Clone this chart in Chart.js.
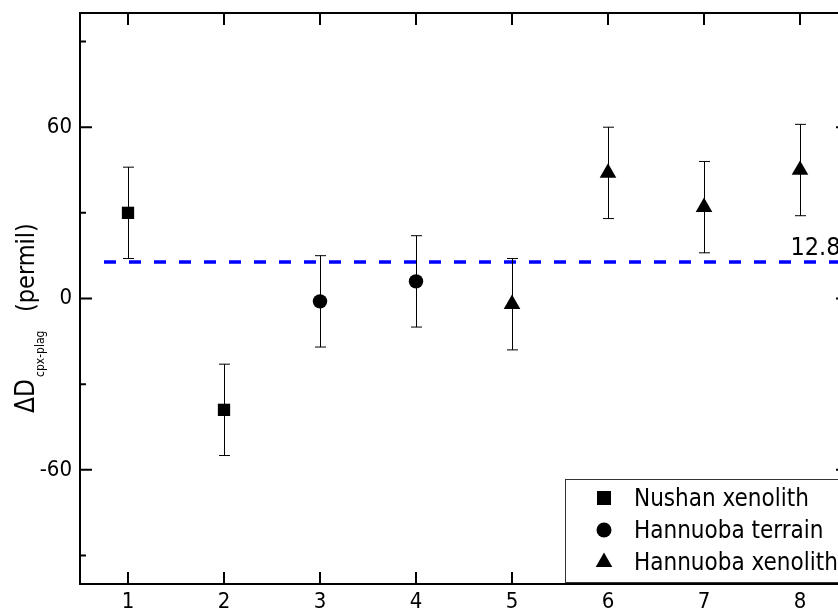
<!DOCTYPE html>
<html>
<head>
<meta charset="utf-8">
<script src="https://cdn.jsdelivr.net/npm/chart.js@4"></script>
<style>
  html, body { margin: 0; padding: 0; background: #fff; overflow: hidden; }
  #wrap { position: relative; width: 870px; height: 612px; }
</style>
</head>
<body>
<div id="wrap"><canvas id="dChart"></canvas></div>
<script>
// sample numbers on the x axis
var xTicks = [1, 2, 3, 4, 5, 6, 7, 8];
var yMajorTicks = [-60, 0, 60];
var yMinorTicks = [-90, -30, 30, 90];

// Nushan xenolith
var nushanX = [1, 2];
var nushanY = [30, -39];
var nushanErr = [16, 16];

// Hannuoba terrain
var terrainX = [3, 4];
var terrainY = [-1, 6];
var terrainErr = [16, 16];

// Hannuoba xenolith
var xenolithX = [5, 6, 7, 8];
var xenolithY = [-2, 44, 32, 45];
var xenolithErr = [16, 16, 16, 16];

// mean line
var meanValue = 12.8;
var meanFromX = 0.75;
var meanToX = 8.5;

var FONT = '"DejaVu Sans Condensed", "DejaVu Sans", sans-serif';

function pts(xs, ys) {
    return xs.map(function (x, i) { return { x: x, y: ys[i] }; });
}

var errorBars = {
    id: 'errorBars',
    afterDatasetsDraw: function (chart) {
        var ctx = chart.ctx;
        var xs = chart.scales.x, ys = chart.scales.y;
        ctx.save();
        ctx.strokeStyle = '#000';
        ctx.lineWidth = 1;
        chart.data.datasets.forEach(function (ds) {
            if (!ds.err) return;
            ds.data.forEach(function (p, i) {
                var px = Math.round(xs.getPixelForValue(p.x)) + 0.5;
                var top = ys.getPixelForValue(p.y + ds.err[i]);
                var bot = ys.getPixelForValue(p.y - ds.err[i]);
                ctx.beginPath();
                ctx.moveTo(px, top); ctx.lineTo(px, bot);
                ctx.moveTo(px - 5.5, top); ctx.lineTo(px + 5.5, top);
                ctx.moveTo(px - 5.5, bot); ctx.lineTo(px + 5.5, bot);
                ctx.stroke();
            });
        });
        ctx.restore();
    }
};

function marker(ctx, style, x, y) {
    ctx.beginPath();
    if (style === 'rect') {
        ctx.rect(x - 7, y - 7, 14, 14);
    } else if (style === 'circle') {
        ctx.arc(x, y, 7.5, 0, Math.PI * 2);
    } else {
        ctx.moveTo(x, y - 9.5);
        ctx.lineTo(x + 8.3, y + 5);
        ctx.lineTo(x - 8.3, y + 5);
        ctx.closePath();
    }
    ctx.fill();
}

var frameAndText = {
    id: 'frameAndText',
    afterDraw: function (chart) {
        var ctx = chart.ctx;
        var a = chart.chartArea;
        var xs = chart.scales.x, ys = chart.scales.y;
        ctx.save();
        ctx.strokeStyle = '#000';
        ctx.lineWidth = 2;
        ctx.strokeRect(a.left, a.top, a.right - a.left, a.bottom - a.top);

        // inward ticks
        ctx.beginPath();
        xTicks.forEach(function (v) {
            var px = xs.getPixelForValue(v);
            ctx.moveTo(px, a.bottom); ctx.lineTo(px, a.bottom - 12);
            ctx.moveTo(px, a.top); ctx.lineTo(px, a.top + 12);
        });
        yMajorTicks.forEach(function (v) {
            var py = ys.getPixelForValue(v);
            ctx.moveTo(a.left, py); ctx.lineTo(a.left + 12, py);
            ctx.moveTo(a.right, py); ctx.lineTo(a.right - 12, py);
        });
        yMinorTicks.forEach(function (v) {
            var py = ys.getPixelForValue(v);
            ctx.moveTo(a.left, py); ctx.lineTo(a.left + 6, py);
            ctx.moveTo(a.right, py); ctx.lineTo(a.right - 6, py);
        });
        ctx.stroke();

        // mean label
        ctx.fillStyle = '#000';
        ctx.font = '25px ' + FONT;
        ctx.textAlign = 'left';
        ctx.textBaseline = 'alphabetic';
        ctx.fillText(String(meanValue), xs.getPixelForValue(7.9), ys.getPixelForValue(meanValue) - 7);

        // y axis title
        ctx.save();
        ctx.translate(34, 413);
        ctx.rotate(-Math.PI / 2);
        ctx.font = '26px ' + FONT;
        ctx.fillText('\u0394D', 0, 0);
        var w = ctx.measureText('\u0394D').width;
        ctx.font = '12px ' + FONT;
        ctx.fillText('cpx-plag', w + 2, 10);
        ctx.font = '25px ' + FONT;
        ctx.fillText('(permil)', 101, 0);
        ctx.restore();

        // legend
        var lx = 565, ly = 479;
        ctx.fillStyle = '#fff';
        ctx.fillRect(lx, ly, 320, 103);
        ctx.lineWidth = 1;
        ctx.strokeStyle = '#333';
        ctx.strokeRect(lx + 0.5, ly + 0.5, 320, 103);
        var rows = [499, 531, 563];
        ctx.font = '24px ' + FONT;
        ctx.textBaseline = 'middle';
        chart.data.datasets.forEach(function (ds, i) {
            if (!ds.err) return;
            ctx.fillStyle = '#000';
            marker(ctx, ds.pointStyle, 604, rows[i] - 1);
            ctx.fillText(ds.label, 634, rows[i] + 1);
        });
        ctx.restore();
    }
};

var ctx = document.getElementById('dChart').getContext('2d');
var dChart = new Chart(ctx, {
    type: 'scatter',
    data: {
        datasets: [
            {
                label: 'Nushan xenolith',
                data: pts(nushanX, nushanY),
                err: nushanErr,
                pointStyle: 'rect',
                pointRadius: 8.7,
                backgroundColor: '#000',
                borderColor: '#000',
                borderWidth: 0
            },
            {
                label: 'Hannuoba terrain',
                data: pts(terrainX, terrainY),
                err: terrainErr,
                pointStyle: 'circle',
                pointRadius: 7.2,
                backgroundColor: '#000',
                borderColor: '#000',
                borderWidth: 0
            },
            {
                label: 'Hannuoba xenolith',
                data: pts(xenolithX, xenolithY),
                err: xenolithErr,
                pointStyle: 'triangle',
                pointRadius: 9.6,
                backgroundColor: '#000',
                borderColor: '#000',
                borderWidth: 0
            },
            {
                label: 'mean',
                data: [{ x: meanFromX, y: meanValue }, { x: meanToX, y: meanValue }],
                showLine: true,
                pointRadius: 0,
                borderColor: '#0000ff',
                borderWidth: 3.5,
                borderDash: [12, 13]
            }
        ]
    },
    options: {
        responsive: true,
        maintainAspectRatio: false,
        animation: false,
        events: [],
        layout: { padding: { top: 13, right: 22, left: 0, bottom: 0 } },
        plugins: {
            legend: { display: false },
            tooltip: { enabled: false }
        },
        scales: {
            x: {
                type: 'linear',
                min: 0.5,
                max: 8.5,
                grid: { display: false, drawTicks: false },
                border: { display: false },
                afterFit: function (s) {
                    s.height = 28;
                    s.paddingLeft = 0;
                    s.paddingRight = 0;
                },
                afterBuildTicks: function (s) {
                    s.ticks = xTicks.map(function (v) { return { value: v }; });
                },
                ticks: {
                    color: '#000',
                    padding: 5,
                    font: { family: FONT, size: 22 }
                }
            },
            y: {
                min: -100,
                max: 100,
                grid: { display: false, drawTicks: false },
                border: { display: false },
                afterFit: function (s) {
                    s.width = 80;
                    s.paddingTop = 0;
                    s.paddingBottom = 0;
                },
                afterBuildTicks: function (s) {
                    s.ticks = yMajorTicks.map(function (v) { return { value: v }; });
                },
                ticks: {
                    color: '#000',
                    padding: 8,
                    font: { family: FONT, size: 22 }
                }
            }
        }
    },
    plugins: [errorBars, frameAndText]
});
</script>
</body>
</html>
